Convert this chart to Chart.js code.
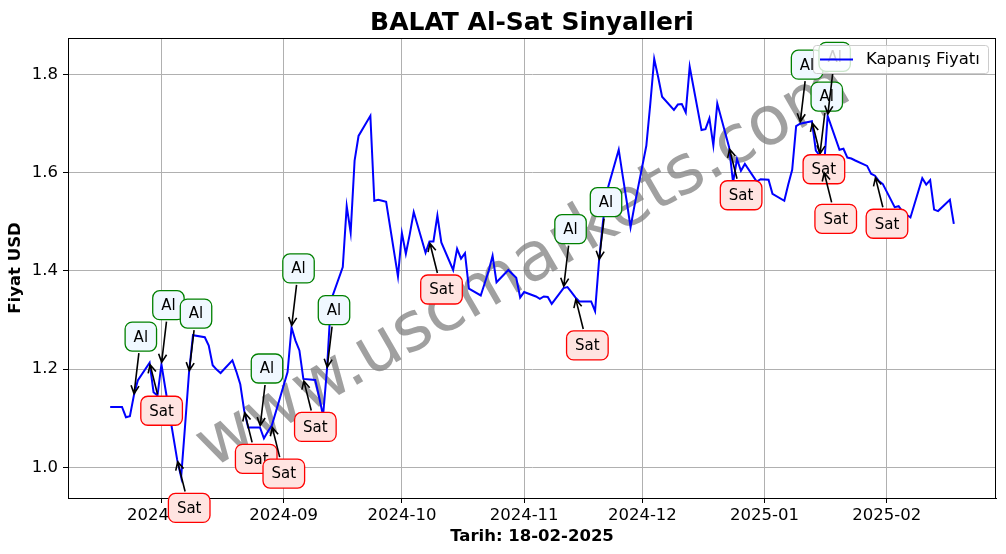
<!DOCTYPE html>
<html>
<head>
<meta charset="utf-8">
<script src="https://cdn.jsdelivr.net/npm/chart.js@4/dist/chart.umd.min.js"></script>
<style>
  html, body { margin: 0; padding: 0; background: #fff; }
  canvas { display: block; }
</style>
</head>
<body>
<canvas id="chart" width="1006" height="554"></canvas>
<script>
const dates = [
  '2024-07-19','2024-07-22','2024-07-23','2024-07-24','2024-07-25','2024-07-26','2024-07-29','2024-07-30','2024-07-31',
  '2024-08-01','2024-08-02','2024-08-05','2024-08-06','2024-08-07','2024-08-08','2024-08-09','2024-08-12','2024-08-13','2024-08-14','2024-08-15','2024-08-16','2024-08-19','2024-08-20','2024-08-21','2024-08-22','2024-08-23','2024-08-26','2024-08-27','2024-08-28','2024-08-29',
  '2024-09-02','2024-09-03','2024-09-04','2024-09-05','2024-09-06','2024-09-09','2024-09-10','2024-09-11','2024-09-12','2024-09-13','2024-09-16','2024-09-17','2024-09-18','2024-09-19','2024-09-20','2024-09-23','2024-09-24','2024-09-25','2024-09-26','2024-09-27','2024-09-30',
  '2024-10-01','2024-10-02','2024-10-03','2024-10-04','2024-10-07','2024-10-08','2024-10-09','2024-10-10','2024-10-11','2024-10-14','2024-10-15','2024-10-16','2024-10-17','2024-10-18','2024-10-21','2024-10-22','2024-10-23','2024-10-24','2024-10-25','2024-10-28','2024-10-30','2024-10-31',
  '2024-11-01','2024-11-04','2024-11-05','2024-11-06','2024-11-07','2024-11-08','2024-11-11','2024-11-12','2024-11-13','2024-11-14','2024-11-15','2024-11-18','2024-11-19','2024-11-20','2024-11-21','2024-11-22','2024-11-25','2024-11-26','2024-11-27','2024-11-28','2024-11-29',
  '2024-12-02','2024-12-03','2024-12-04','2024-12-05','2024-12-06','2024-12-09','2024-12-10','2024-12-11','2024-12-12','2024-12-13','2024-12-16','2024-12-17','2024-12-18','2024-12-19','2024-12-20','2024-12-23','2024-12-24','2024-12-25','2024-12-26','2024-12-27','2024-12-30','2024-12-31',
  '2025-01-02','2025-01-03','2025-01-06','2025-01-07','2025-01-08','2025-01-09','2025-01-10','2025-01-13','2025-01-14','2025-01-15','2025-01-16','2025-01-17','2025-01-20','2025-01-21','2025-01-22','2025-01-23','2025-01-24','2025-01-27','2025-01-28','2025-01-29','2025-01-30','2025-01-31',
  '2025-02-03','2025-02-04','2025-02-05','2025-02-06','2025-02-07','2025-02-10','2025-02-11','2025-02-12','2025-02-13','2025-02-14','2025-02-17','2025-02-18'
];
const closePrices = [
  1.123,1.123,1.102,1.104,1.146,1.177,1.213,1.153,1.146,
  1.210,1.160,1.015,0.980,1.085,1.193,1.269,1.265,1.248,1.208,1.199,1.192,1.218,1.195,1.169,1.115,1.081,1.081,1.059,1.073,1.085,
  1.194,1.285,1.258,1.238,1.180,1.178,1.143,1.105,1.200,1.340,1.408,1.532,1.478,1.625,1.675,1.716,1.543,1.545,1.543,1.541,1.389,
  1.477,1.435,1.475,1.520,1.437,1.460,1.460,1.513,1.458,1.402,1.445,1.425,1.436,1.364,1.350,1.375,1.400,1.431,1.377,1.402,1.386,1.346,
  1.357,1.348,1.343,1.348,1.347,1.333,1.365,1.367,1.357,1.346,1.338,1.338,1.318,1.420,1.500,1.562,1.647,1.594,1.543,1.489,1.533,
  1.655,1.740,1.832,1.795,1.755,1.728,1.739,1.740,1.723,1.816,1.687,1.689,1.711,1.656,1.741,1.652,1.580,1.628,1.604,1.618,1.582,1.587,
  1.586,1.557,1.543,1.576,1.606,1.695,1.700,1.705,1.645,1.635,1.604,1.716,1.647,1.649,1.631,1.629,1.625,1.614,1.598,1.594,1.583,1.577,
  1.530,1.532,1.521,1.515,1.509,1.589,1.576,1.585,1.525,1.522,1.545,1.496
];
const buyDates = ['2024-07-25','2024-08-01','2024-08-08','2024-08-26','2024-09-03','2024-09-12','2024-11-11','2024-11-20','2025-01-10','2025-01-15','2025-01-17'];
const sellDates = ['2024-07-29','2024-08-05','2024-08-22','2024-08-29','2024-09-06','2024-10-08','2024-11-14','2024-12-23','2025-01-13','2025-01-16','2025-01-29'];
const monthTicks = ['2024-08-01','2024-09-01','2024-10-01','2024-11-01','2024-12-01','2025-01-01','2025-02-01'];
const monthLabels = ['2024-08','2024-09','2024-10','2024-11','2024-12','2025-01','2025-02'];
const priceTicks = [1.0, 1.2, 1.4, 1.6, 1.8];

const FONT = "'DejaVu Sans', sans-serif";
function ts(d) { const p = d.split('-'); return Date.UTC(+p[0], +p[1] - 1, +p[2]); }

const points = dates.map((d, i) => ({ x: ts(d), y: closePrices[i] }));
const priceAt = {};
dates.forEach((d, i) => priceAt[d] = closePrices[i]);

// matplotlib-like 5% margins
const xLo = ts(dates[0]), xHi = ts(dates[dates.length - 1]);
const xPad = (xHi - xLo) * 0.05;
const yLo = Math.min(...closePrices), yHi = Math.max(...closePrices);
const yPad = (yHi - yLo) * 0.05;

function roundRect(c, x, y, w, h, r) {
  c.beginPath();
  c.moveTo(x + r, y);
  c.lineTo(x + w - r, y);
  c.arcTo(x + w, y, x + w, y + r, r);
  c.lineTo(x + w, y + h - r);
  c.arcTo(x + w, y + h, x + w - r, y + h, r);
  c.lineTo(x + r, y + h);
  c.arcTo(x, y + h, x, y + h - r, r);
  c.lineTo(x, y + r);
  c.arcTo(x, y, x + r, y, r);
  c.closePath();
}

function drawSignal(c, px, py, text, dx, dy, edge, face) {
  c.font = '15px ' + FONT;
  const tw = c.measureText(text).width;
  const w = tw + 17, h = 29;
  const cx = px + dx, cy = py + dy;
  const vx = px - cx, vy = py - cy;
  const len = Math.hypot(vx, vy);
  const ux = vx / len, uy = vy / len;
  const t = Math.min((w / 2) / Math.max(Math.abs(vx), 1e-6), (h / 2) / Math.max(Math.abs(vy), 1e-6));
  const sx = cx + vx * t + ux * 2, sy = cy + vy * t + uy * 2;
  const ex = px - ux * 2, ey = py - uy * 2;
  c.strokeStyle = '#000';
  c.lineWidth = 1.6;
  c.beginPath();
  c.moveTo(sx, sy);
  c.lineTo(ex, ey);
  c.moveTo(ex - ux * 8 - uy * 4, ey - uy * 8 + ux * 4);
  c.lineTo(ex, ey);
  c.lineTo(ex - ux * 8 + uy * 4, ey - uy * 8 - ux * 4);
  c.stroke();
  roundRect(c, cx - w / 2, cy - h / 2, w, h, 7);
  c.fillStyle = face;
  c.fill();
  c.strokeStyle = edge;
  c.lineWidth = 1.3;
  c.stroke();
  c.fillStyle = '#000';
  c.textAlign = 'center';
  c.textBaseline = 'middle';
  c.fillText(text, cx, cy + 1);
}

const signalPlugin = {
  id: 'signals',
  beforeDatasetsDraw(chart) {
    const c = chart.ctx;
    c.save();
    c.translate(524, 268);
    c.rotate(-30 * Math.PI / 180);
    c.font = '68px ' + FONT;
    c.fillStyle = 'rgba(128,128,128,0.75)';
    c.textAlign = 'center';
    c.textBaseline = 'middle';
    c.fillText('www.uscmarkets.com', 0, 0);
    c.restore();
  },
  afterDraw(chart) {
    const c = chart.ctx;
    const a = chart.chartArea;
    const xs = chart.scales.x, ys = chart.scales.y;
    c.save();
    // frame
    c.strokeStyle = '#000';
    c.lineWidth = 1;
    c.strokeRect(Math.round(a.left) + 0.5, Math.round(a.top) + 0.5, Math.round(a.right - a.left) - 1, Math.round(a.bottom - a.top));
    // signals
    buyDates.forEach(d => {
      drawSignal(c, xs.getPixelForValue(ts(d)), ys.getPixelForValue(priceAt[d]), 'Al', 7, -59, 'green', '#f0f8ff');
    });
    sellDates.forEach(d => {
      drawSignal(c, xs.getPixelForValue(ts(d)), ys.getPixelForValue(priceAt[d]), 'Sat', 12, 48, 'red', '#ffe4e1');
    });
    // legend
    roundRect(c, 813.5, 45.5, 175, 28, 3);
    c.fillStyle = 'rgba(255,255,255,0.8)';
    c.fill();
    c.strokeStyle = '#cccccc';
    c.lineWidth = 1;
    c.stroke();
    c.strokeStyle = 'blue';
    c.lineWidth = 2;
    c.beginPath();
    c.moveTo(820, 59.5);
    c.lineTo(853, 59.5);
    c.stroke();
    c.fillStyle = '#000';
    c.font = '16.5px ' + FONT;
    c.textAlign = 'left';
    c.textBaseline = 'middle';
    c.fillText(chart.data.datasets[0].label, 866, 60);
    // title
    c.font = 'bold 25px ' + FONT;
    c.textAlign = 'center';
    c.textBaseline = 'alphabetic';
    c.fillText('BALAT Al-Sat Sinyalleri', (a.left + a.right) / 2, 29.5);
    c.restore();
  }
};

new Chart(document.getElementById('chart'), {
  type: 'line',
  data: {
    datasets: [{
      label: 'Kapanış Fiyatı',
      data: points,
      borderColor: 'blue',
      borderWidth: 2,
      pointRadius: 0,
      tension: 0,
      fill: false
    }]
  },
  options: {
    responsive: false,
    animation: false,
    layout: { padding: { top: 38, right: 10, left: 0, bottom: 0 } },
    plugins: { legend: { display: false }, title: { display: false }, tooltip: { enabled: false } },
    scales: {
      x: {
        type: 'linear',
        min: xLo - xPad,
        max: xHi + xPad,
        afterBuildTicks: s => { s.ticks = monthTicks.map(d => ({ value: ts(d) })); },
        afterFit: s => { s.height = 56; },
        ticks: {
          autoSkip: false, maxRotation: 0, color: '#000', padding: 3,
          font: { family: FONT, size: 16.5 },
          callback: v => monthLabels[monthTicks.findIndex(d => ts(d) === v)]
        },
        grid: { color: '#b0b0b0', lineWidth: 1, tickColor: '#000', tickLength: 5, tickWidth: 1 },
        border: { color: '#000', width: 1 },
        title: { display: true, text: 'Tarih: 18-02-2025', color: '#000', font: { family: FONT, size: 16.5, weight: 'bold' }, padding: { top: 0, bottom: 7 } }
      },
      y: {
        type: 'linear',
        min: yLo - yPad,
        max: yHi + yPad,
        afterBuildTicks: s => { s.ticks = priceTicks.map(v => ({ value: v })); },
        afterFit: s => { s.width = 68; },
        ticks: {
          color: '#000', padding: 5,
          font: { family: FONT, size: 16.5 },
          callback: v => v.toFixed(1)
        },
        grid: { color: '#b0b0b0', lineWidth: 1, tickColor: '#000', tickLength: 5, tickWidth: 1 },
        border: { color: '#000', width: 1 },
        title: { display: true, text: 'Fiyat USD', color: '#000', font: { family: FONT, size: 16.5, weight: 'bold' }, padding: { top: 6, bottom: 0 } }
      }
    }
  },
  plugins: [signalPlugin]
});
</script>
</body>
</html>
